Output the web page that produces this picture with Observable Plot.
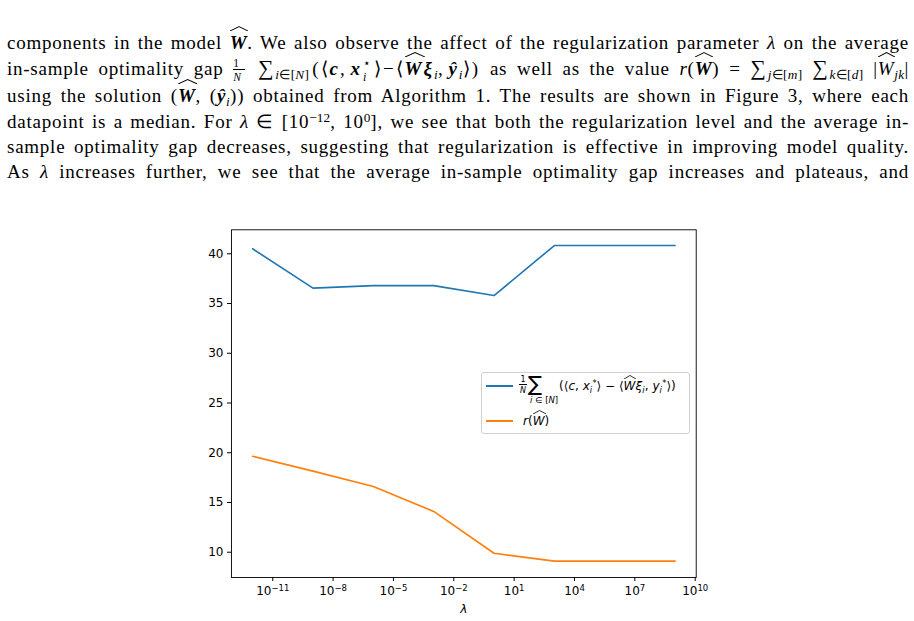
<!DOCTYPE html>
<html>
<head>
<meta charset="utf-8">
<script src="https://cdn.jsdelivr.net/npm/d3@7"></script>
<script src="https://cdn.jsdelivr.net/npm/@observablehq/plot@0.6"></script>
<style>
  html, body { margin: 0; padding: 0; background: white; }
  body { width: 914px; height: 621px; position: relative; overflow: hidden; }
  .ln { position: absolute; left: 7px; width: 902px; font-family: "Liberation Serif", serif; font-size: 19px; letter-spacing: 0.75px;
        line-height: 25px; height: 25px; text-align: justify; text-align-last: justify; white-space: nowrap; color: #000; }
  .hat { position: relative; display: inline-block; }
  .hat::before { content: ""; position: absolute; left: 0px; right: -1px; top: -4px; height: 5px;
    background-image: url("data:image/svg+xml;utf8,<svg xmlns='http://www.w3.org/2000/svg' viewBox='0 0 10 5' preserveAspectRatio='none'><polyline points='0,5 5,0.6 10,5' fill='none' stroke='black' stroke-width='1' vector-effect='non-scaling-stroke'/></svg>");
    background-size: 100% 100%; background-repeat: no-repeat; }
  .sb { font-size: 0.7em; position: relative; top: 0.32em; line-height: 0; letter-spacing: 0.3px; }
  .sp { font-size: 0.7em; position: relative; top: -0.45em; line-height: 0; letter-spacing: 0; }
  .su { display: inline-block; width: 9px; font-size: 12px; line-height: 12px; position: relative; top: -8px; letter-spacing: 0; padding-left: 1px; }
  .sd { display: inline-block; width: 9px; margin-left: -10px; font-size: 12px; line-height: 12px; position: relative; top: 6px; letter-spacing: 0; padding-left: 1px; margin-right: 2px; }
  .fn { display: inline-block; width: 12px; text-align: center; font-size: 11.5px; line-height: 11px; position: relative; top: -8px;
        border-bottom: 0.8px solid #000; letter-spacing: 0; }
  .fm { display: inline-block; width: 12px; margin-left: -12px; text-align: center; font-size: 11.5px; line-height: 11px; position: relative; top: 6px;
        letter-spacing: 0; margin-right: 3px; }
  .sum { font-size: 1.15em; line-height: 0; margin-right: 1px; }
  .mth { letter-spacing: 2px; }
  .gap { margin-right: 3px; }
  #chart { position: absolute; left: 0; top: 200px; }
  .lg { position: absolute; font-family: "DejaVu Sans", sans-serif; color: #000; white-space: nowrap; }
  .lgbox { position: absolute; left: 481px; top: 372px; width: 207px; height: 60px; border: 1px solid #d0d0d0;
           border-radius: 3px; background: rgba(255,255,255,0.8); }
  .lgline { position: absolute; width: 27px; height: 1.7px; }
  .it { font-style: italic; }
  .hat2 { position: relative; display: inline-block; }
  .hat2::before { content: ""; position: absolute; left: 0px; right: -1px; top: -3px; height: 4px;
    background-image: url("data:image/svg+xml;utf8,<svg xmlns='http://www.w3.org/2000/svg' viewBox='0 0 10 5' preserveAspectRatio='none'><polyline points='0,5 5,0.6 10,5' fill='none' stroke='black' stroke-width='0.8' vector-effect='non-scaling-stroke'/></svg>");
    background-size: 100% 100%; background-repeat: no-repeat; }
</style>
</head>
<body>
<div class="ln" style="top:30px">components in the model <span class="hat"><b><i>W</i></b></span>. We also observe the affect of the regularization parameter <i>λ</i> on the average</div>
<div class="ln" style="top:56px">in-sample optimality gap <span class="fn">1</span><span class="fm"><i>N</i></span> <span class="sum">∑</span><span class="sb gap"><i>i</i>∈[<i>N</i>]</span><span class="mth">(⟨<b><i>c</i></b>,&#8202;<b><i>x</i></b><span class="su">⋆</span><span class="sd"><i>i</i></span>⟩−⟨<span class="hat"><b><i>W</i></b></span><b><i>ξ</i></b><span class="sb"><i>i</i></span>,&#8202;<b><i>ŷ</i></b><span class="sb"><i>i</i></span>⟩)</span> as well as the value <i>r</i>(<span class="hat"><b><i>W</i></b></span>) = <span class="sum">∑</span><span class="sb"><i>j</i>∈[<i>m</i>]</span> <span class="sum">∑</span><span class="sb"><i>k</i>∈[<i>d</i>]</span> |<span class="hat"><i>W</i></span><span class="sb"><i>jk</i></span>|</div>
<div class="ln" style="top:83px">using the solution (<span class="hat"><b><i>W</i></b></span>, (<b><i>ŷ</i></b><span class="sb"><i>i</i></span>)) obtained from Algorithm 1. The results are shown in Figure 3, where each</div>
<div class="ln" style="top:109px">datapoint is a median. For <i>λ</i> ∈ [10<span class="sp">−12</span>, 10<span class="sp">0</span>], we see that both the regularization level and the average in-</div>
<div class="ln" style="top:134px">sample optimality gap decreases, suggesting that regularization is effective in improving model quality.</div>
<div class="ln" style="top:159px">As <i>λ</i> increases further, we see that the average in-sample optimality gap increases and plateaus, and</div>

<div id="chart"></div>

<div class="lgbox"></div>
<div class="lgline" style="left:486px;top:385px;background:#1f77b4"></div>
<div class="lgline" style="left:486px;top:420px;background:#ff7f0e"></div>
<div class="lg" style="left:519px;top:375px;font-size:8px;line-height:9px;width:8px;text-align:center;border-bottom:0.7px solid #000">1</div>
<div class="lg it" style="left:519px;top:386px;font-size:8px;line-height:9px;width:8px;text-align:center">N</div>
<div class="lg" style="left:528px;top:372px;font-size:21px;line-height:24px">∑</div>
<div class="lg" style="left:530px;top:395px;font-size:8.5px;line-height:10px"><span class="it">i</span> ∈ [<span class="it">N</span>]</div>
<div class="lg" style="left:559px;top:378px;font-size:12px;line-height:16px">(⟨<span class="it">c</span>, <span class="it">x</span><span class="sb it" style="top:0.35em">i</span><span class="sp" style="top:-0.5em">*</span>⟩ − ⟨<span class="hat2"><span class="it">W</span></span><span class="it">ξ</span><span class="sb it" style="top:0.35em">i</span>, <span class="it">y</span><span class="sb it" style="top:0.35em">i</span><span class="sp" style="top:-0.5em">*</span>⟩)</div>
<div class="lg" style="left:523px;top:413px;font-size:12px;line-height:16px"><span class="it">r</span>(<span class="hat2"><span class="it">W</span></span>)</div>

<script>
// ---- data ----
const lambdaValues = [1e-12, 1e-9, 1e-6, 1e-3, 1e0, 1e3, 1e6, 1e9];
const gapMedians   = [40.5, 36.55, 36.8, 36.8, 35.8, 40.83, 40.83, 40.83];
const regMedians   = [19.65, 18.15, 16.6, 14.1, 9.9, 9.1, 9.1, 9.1];
const seriesNames  = ["gap", "reg"];
const seriesColors = ["#1f77b4", "#ff7f0e"];
const xTickValues  = [1e-11, 1e-8, 1e-5, 1e-2, 1e1, 1e4, 1e7, 1e10];
const yTickValues  = [10, 15, 20, 25, 30, 35, 40];
const xLabel = "λ";

const rows = lambdaValues.flatMap((l, i) => [
  {lambda: l, value: gapMedians[i], series: seriesNames[0]},
  {lambda: l, value: regMedians[i], series: seriesNames[1]}
]);

const fmt = d => "10^" + Math.round(Math.log10(d));

const chart = Plot.plot({
  width: 914,
  height: 421,
  marginLeft: 231,
  marginRight: 218.3,
  marginTop: 29.3,
  marginBottom: 44,
  style: {fontFamily: "DejaVu Sans", fontSize: "12px", color: "#000", background: "white", overflow: "visible"},
  x: {type: "log", domain: [Math.pow(10, -13.05), Math.pow(10, 10.05)]},
  y: {domain: [7.46, 42.41]},
  color: {domain: seriesNames, range: seriesColors},
  marks: [
    Plot.axisX({ticks: xTickValues, tickFormat: fmt, tickSize: 4, tickPadding: 5, label: null}),
    Plot.axisY({ticks: yTickValues, tickSize: 4, tickPadding: 4, label: null}),
    Plot.line(rows, {x: "lambda", y: "value", z: "series", stroke: "series", strokeWidth: 1.65}),
    Plot.frame({stroke: "#000", strokeWidth: 0.9}),
    Plot.text([xLabel], {frameAnchor: "bottom", dy: 35, fontStyle: "italic", fontSize: 12})
  ]
});
document.getElementById("chart").appendChild(chart);

// render "10^k" tick labels with a raised exponent, like matplotlib
d3.select(chart).selectAll("text").each(function () {
  const t = this.textContent;
  const m = /^10\^(-?\d+)$/.exec(t);
  if (!m) return;
  const sel = d3.select(this);
  sel.text(null);
  sel.append("tspan").text("10");
  sel.append("tspan").attr("dy", "-0.45em").attr("font-size", "8.5px").text(m[1].replace("-", "−"));
});
</script>
</body>
</html>
